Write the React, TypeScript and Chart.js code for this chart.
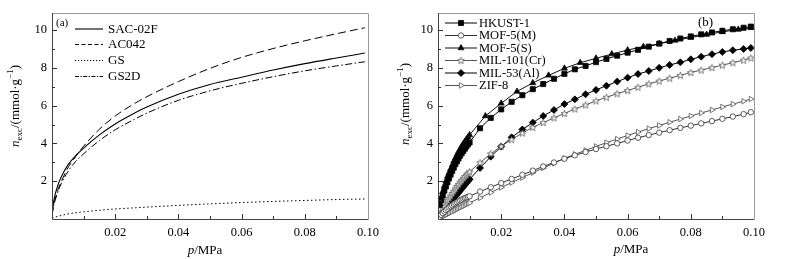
import React, { useEffect, useRef } from "react";
import { Chart, registerables } from "chart.js";
import { drawPoint } from "chart.js/helpers";

Chart.register(...registerables);

const SERIF = "'Liberation Serif', 'Times New Roman', serif";

// ---------- Panel (a) ----------
const pA = [0, 0.0005, 0.001, 0.002, 0.003, 0.005, 0.0075, 0.01, 0.015, 0.02, 0.025, 0.03, 0.04, 0.05, 0.06, 0.07, 0.08, 0.09, 0.099];
const sac02f = [0.25, 0.9, 1.3, 1.85, 2.25, 2.85, 3.35, 3.75, 4.45, 5.03, 5.5, 5.92, 6.6, 7.12, 7.5, 7.88, 8.22, 8.52, 8.78];
const ac042 = [0.2, 0.7, 1.05, 1.6, 2.0, 2.7, 3.3, 3.85, 4.75, 5.45, 6.0, 6.47, 7.27, 7.97, 8.55, 9.02, 9.43, 9.8, 10.12];
const gs = [0.05, 0.08, 0.1, 0.15, 0.19, 0.27, 0.33, 0.38, 0.46, 0.53, 0.58, 0.63, 0.72, 0.8, 0.87, 0.93, 0.98, 1.03, 1.06];
const gs2d = [0.2, 0.7, 1.0, 1.5, 1.9, 2.5, 3.05, 3.45, 4.15, 4.72, 5.18, 5.6, 6.28, 6.78, 7.18, 7.53, 7.84, 8.1, 8.32];

// ---------- Panel (b) ----------
const pLow = [0.0005, 0.001, 0.0015, 0.002, 0.0025, 0.003, 0.0035, 0.004, 0.0045, 0.005, 0.0055, 0.006, 0.0065, 0.007, 0.0075, 0.008, 0.0085, 0.009, 0.0095];
const pHigh = [0.01, 0.0133, 0.0167, 0.02, 0.0233, 0.0267, 0.03, 0.0333, 0.0367, 0.04, 0.0433, 0.0467, 0.05, 0.0533, 0.0567, 0.06, 0.0633, 0.0667, 0.07, 0.0733, 0.0767, 0.08, 0.0833, 0.0867, 0.09, 0.0933, 0.0967, 0.099];
const pS = [0.01, 0.015, 0.02, 0.025, 0.03, 0.035, 0.04, 0.045, 0.05, 0.055, 0.06, 0.065, 0.07, 0.075, 0.08, 0.085, 0.09, 0.095, 0.099];

const hkustLow = [0.75, 1.0, 1.25, 1.5, 1.72, 1.95, 2.15, 2.35, 2.55, 2.72, 2.9, 3.05, 3.2, 3.35, 3.48, 3.6, 3.72, 3.84, 3.95];
const hkustHigh = [4.05, 4.8, 5.35, 5.8, 6.2, 6.55, 6.87, 7.14, 7.42, 7.68, 7.92, 8.1, 8.3, 8.47, 8.64, 8.8, 8.95, 9.12, 9.28, 9.42, 9.55, 9.66, 9.77, 9.87, 9.96, 10.04, 10.12, 10.18];
const mof5mLow = [0.12, 0.22, 0.31, 0.39, 0.47, 0.54, 0.61, 0.67, 0.73, 0.79, 0.84, 0.89, 0.94, 0.99, 1.03, 1.07, 1.11, 1.14, 1.17];
const mof5mHigh = [1.2, 1.45, 1.68, 1.9, 2.12, 2.34, 2.56, 2.78, 2.99, 3.19, 3.37, 3.54, 3.7, 3.85, 4.0, 4.15, 4.3, 4.44, 4.57, 4.7, 4.82, 4.94, 5.06, 5.18, 5.3, 5.42, 5.55, 5.65];
const mof5sLow = [0.8, 1.15, 1.45, 1.75, 2.0, 2.25, 2.45, 2.65, 2.85, 3.05, 3.22, 3.4, 3.55, 3.7, 3.85, 3.98, 4.1, 4.22, 4.33];
const mof5sHigh = [4.45, 5.45, 6.12, 6.75, 7.2, 7.6, 7.97, 8.27, 8.5, 8.73, 8.94, 9.12, 9.27, 9.45, 9.6, 9.76, 9.9, 10.03, 10.12];
const mil101Low = [0.2, 0.38, 0.55, 0.7, 0.85, 0.98, 1.1, 1.22, 1.35, 1.47, 1.6, 1.72, 1.83, 1.95, 2.05, 2.15, 2.25, 2.33, 2.42];
const mil101High = [2.5, 2.98, 3.45, 3.85, 4.2, 4.55, 4.85, 5.1, 5.35, 5.58, 5.82, 6.03, 6.25, 6.44, 6.63, 6.8, 6.97, 7.15, 7.3, 7.45, 7.6, 7.75, 7.88, 8.01, 8.14, 8.27, 8.4, 8.52];
const mil53Low = [0.12, 0.24, 0.35, 0.46, 0.57, 0.68, 0.79, 0.9, 1.0, 1.1, 1.2, 1.3, 1.4, 1.5, 1.6, 1.7, 1.8, 1.9, 2.0];
const mil53High = [2.1, 2.7, 3.3, 3.83, 4.32, 4.74, 5.1, 5.45, 5.77, 6.08, 6.33, 6.6, 6.83, 7.05, 7.27, 7.48, 7.67, 7.83, 8.0, 8.15, 8.29, 8.45, 8.59, 8.72, 8.84, 8.93, 9.0, 9.05];
const zif8Low = [0.04, 0.085, 0.13, 0.17, 0.215, 0.26, 0.3, 0.345, 0.39, 0.43, 0.47, 0.515, 0.56, 0.6, 0.64, 0.685, 0.73, 0.77, 0.81];
const zif8High = [0.85, 1.12, 1.4, 1.67, 1.93, 2.19, 2.45, 2.7, 2.95, 3.2, 3.42, 3.63, 3.84, 4.04, 4.23, 4.42, 4.6, 4.78, 4.95, 5.12, 5.29, 5.45, 5.61, 5.77, 5.93, 6.08, 6.23, 6.35];

const yTicksLabels = [2, 4, 6, 8, 10];
const xTickLabels = [0.02, 0.04, 0.06, 0.08, 0.1];

const xy = (xs: number[], ys: number[]) => xs.map((x, i) => ({ x, y: ys[i] }));

function makeStar(): HTMLCanvasElement {
  const c = document.createElement("canvas");
  c.width = 9;
  c.height = 9;
  const g = c.getContext("2d")!;
  g.beginPath();
  for (let i = 0; i < 10; i++) {
    const r = i % 2 === 0 ? 3.6 : 1.5;
    const a = -Math.PI / 2 + (i * Math.PI) / 5;
    const px = 4.5 + r * Math.cos(a);
    const py = 4.8 + r * Math.sin(a);
    if (i === 0) g.moveTo(px, py);
    else g.lineTo(px, py);
  }
  g.closePath();
  g.fillStyle = "#fff";
  g.fill();
  g.strokeStyle = "#555";
  g.lineWidth = 0.8;
  g.stroke();
  return c;
}

type Piece = { t: string; italic?: boolean; size: number; dy: number };

function drawPieces(ctx: CanvasRenderingContext2D, pieces: Piece[], cx: number, cy: number, rotate: boolean) {
  ctx.save();
  ctx.translate(cx, cy);
  if (rotate) ctx.rotate(-Math.PI / 2);
  const fontOf = (p: Piece) => `${p.italic ? "italic " : ""}${p.size}px ${SERIF}`;
  let total = 0;
  for (const p of pieces) {
    ctx.font = fontOf(p);
    total += ctx.measureText(p.t).width;
  }
  let x = -total / 2;
  ctx.textAlign = "left";
  ctx.textBaseline = "alphabetic";
  ctx.fillStyle = "#000";
  for (const p of pieces) {
    ctx.font = fontOf(p);
    ctx.fillText(p.t, x, p.dy);
    x += ctx.measureText(p.t).width;
  }
  ctx.restore();
}

const yTitle: Piece[] = [
  { t: "n", italic: true, size: 13, dy: 4.5 },
  { t: "exc", size: 9, dy: 7.5 },
  { t: "/(mmol·g", size: 13, dy: 4.5 },
  { t: "−1", size: 9, dy: -1 },
  { t: ")", size: 13, dy: 4.5 },
];
const xTitle: Piece[] = [
  { t: "p", italic: true, size: 13, dy: 4.5 },
  { t: "/MPa", size: 13, dy: 4.5 },
];

type DecorCfg = {
  panel: string;
  panelX: number;
  panelY: number;
  panelSize: number;
  yTitleX: number;
  yTitleY: number;
  xTitleX: number;
  xTitleY: number;
  legendX0: number;
  legendX1: number;
  legendTextX: number;
  legendRows: number[];
  legendFont: number;
  showMarkers: boolean;
};

function makeDecor(cfg: DecorCfg) {
  return {
    id: "decor",
    afterDraw(chart: any) {
      const ctx: CanvasRenderingContext2D = chart.ctx;
      const { left, right, top, bottom } = chart.chartArea;
      const xs = chart.scales.x;
      const ys = chart.scales.y;
      ctx.save();
      ctx.lineWidth = 1;
      ctx.strokeStyle = "#9a9a9a";
      ctx.beginPath();
      ctx.moveTo(left, top + 0.5);
      ctx.lineTo(right + 0.5, top + 0.5);
      ctx.lineTo(right + 0.5, bottom);
      ctx.stroke();
      ctx.strokeStyle = "#444";
      ctx.beginPath();
      ctx.moveTo(left + 0.5, top);
      ctx.lineTo(left + 0.5, bottom + 0.5);
      ctx.lineTo(right + 0.5, bottom + 0.5);
      ctx.stroke();
      ctx.strokeStyle = "#333";
      ctx.beginPath();
      for (let i = 1; i <= 9; i++) {
        const px = Math.round(xs.getPixelForValue(i / 100)) + 0.5;
        const len = i % 2 === 0 ? 5 : 3;
        ctx.moveTo(px, bottom);
        ctx.lineTo(px, bottom - len);
      }
      for (let i = 1; i <= 10; i++) {
        const py = Math.round(ys.getPixelForValue(i)) + 0.5;
        const len = i % 2 === 0 ? 5 : 3;
        ctx.moveTo(left, py);
        ctx.lineTo(left + len, py);
      }
      ctx.stroke();
      ctx.fillStyle = "#000";
      ctx.font = `${cfg.panelSize}px ${SERIF}`;
      ctx.textAlign = "left";
      ctx.textBaseline = "middle";
      ctx.fillText(cfg.panel, cfg.panelX, cfg.panelY);
      chart.data.datasets.forEach((ds: any, i: number) => {
        const y = cfg.legendRows[i];
        ctx.save();
        ctx.strokeStyle = ds.borderColor;
        ctx.lineWidth = ds.borderWidth;
        ctx.setLineDash(ds.legendDash || []);
        ctx.beginPath();
        ctx.moveTo(cfg.legendX0, y + 0.5);
        ctx.lineTo(cfg.legendX1, y + 0.5);
        ctx.stroke();
        ctx.setLineDash([]);
        if (cfg.showMarkers) {
          ctx.fillStyle = ds.pointBackgroundColor;
          ctx.strokeStyle = ds.pointBorderColor;
          ctx.lineWidth = ds.pointBorderWidth;
          drawPoint(
            ctx,
            {
              pointStyle: ds.pointStyle,
              rotation: ds.pointRotation || 0,
              radius: ds.pointRadius,
              borderWidth: ds.pointBorderWidth,
            } as any,
            (cfg.legendX0 + cfg.legendX1) / 2,
            y + 0.5
          );
        }
        ctx.restore();
        ctx.fillStyle = "#000";
        ctx.font = `${cfg.legendFont}px ${SERIF}`;
        ctx.textAlign = "left";
        ctx.textBaseline = "middle";
        ctx.fillText(ds.label, cfg.legendTextX, y + 1);
      });
      ctx.restore();
      drawPieces(ctx, yTitle, cfg.yTitleX, cfg.yTitleY, true);
      drawPieces(ctx, xTitle, cfg.xTitleX, cfg.xTitleY, false);
    },
  };
}

function baseOptions(yWidth: number, padRight: number) {
  return {
    responsive: false,
    animation: false as const,
    devicePixelRatio: 1,
    layout: { padding: { left: 0, right: padRight, top: 13, bottom: 0 } },
    plugins: { legend: { display: false }, tooltip: { enabled: false } },
    scales: {
      x: {
        type: "linear" as const,
        min: 0,
        max: 0.1,
        grid: { display: false, drawTicks: false },
        border: { display: false },
        afterFit: (s: any) => {
          s.height = 40;
        },
        afterBuildTicks: (s: any) => {
          s.ticks = xTickLabels.map((v) => ({ value: v }));
        },
        ticks: {
          autoSkip: false,
          maxRotation: 0,
          padding: 6,
          color: "#000",
          font: { family: SERIF, size: 12.5 },
          callback: (v: any) => Number(v).toFixed(2),
        },
      },
      y: {
        type: "linear" as const,
        min: 0,
        max: 10.9,
        grid: { display: false, drawTicks: false },
        border: { display: false },
        afterFit: (s: any) => {
          s.width = yWidth;
        },
        afterBuildTicks: (s: any) => {
          s.ticks = yTicksLabels.map((v) => ({ value: v }));
        },
        ticks: {
          autoSkip: false,
          padding: 5,
          color: "#000",
          font: { family: SERIF, size: 12.5 },
          callback: (v: any) => String(v),
        },
      },
    },
  };
}

export default function App() {
  const refA = useRef<HTMLCanvasElement>(null);
  const refB = useRef<HTMLCanvasElement>(null);

  useEffect(() => {
    const lineA = (label: string, data: number[], dash: number[], legendDash: number[], width = 1) => ({
      label,
      data: xy(pA, data),
      borderColor: "#000",
      borderWidth: width,
      borderDash: dash,
      legendDash,
      pointRadius: 0,
      fill: false,
      cubicInterpolationMode: "monotone" as const,
    });
    const chartA = new Chart(refA.current!, {
      type: "line",
      data: {
        datasets: [
          lineA("SAC-02F", sac02f, [], [], 1.1),
          lineA("AC042", ac042, [8, 4], [4, 2.5]),
          lineA("GS", gs, [1.5, 2.5], [1.2, 1.8]),
          lineA("GS2D", gs2d, [7, 2.5, 1.5, 2.5], [4, 1.5, 1.2, 1.5]),
        ] as any,
      },
      options: baseOptions(52, 24) as any,
      plugins: [
        makeDecor({
          panel: "(a)",
          panelX: 56,
          panelY: 23,
          panelSize: 11,
          yTitleX: 14,
          yTitleY: 106,
          xTitleX: 205,
          xTitleY: 249,
          legendX0: 75,
          legendX1: 103,
          legendTextX: 108,
          legendRows: [28.5, 44, 60, 76],
          legendFont: 13,
          showMarkers: false,
        }),
      ],
    });

    const star = makeStar();
    const series = (
      label: string,
      xs: number[],
      ys: number[],
      style: any,
      radius: number,
      fillC: string,
      lineC: string,
      rotation = 0
    ) => ({
      label,
      data: xy(xs, ys),
      borderColor: lineC,
      borderWidth: 1,
      pointStyle: style,
      pointRadius: radius,
      pointBackgroundColor: fillC,
      pointBorderColor: lineC,
      pointBorderWidth: 0.8,
      pointRotation: rotation,
      fill: false,
      tension: 0,
    });
    const chartB = new Chart(refB.current!, {
      type: "line",
      data: {
        datasets: [
          series("HKUST-1", pLow.concat(pHigh), hkustLow.concat(hkustHigh), "rect", 3.6, "#000", "#000"),
          series("MOF-5(M)", pLow.concat(pHigh), mof5mLow.concat(mof5mHigh), "circle", 2.7, "#fff", "#333"),
          series("MOF-5(S)", pLow.concat(pS), mof5sLow.concat(mof5sHigh), "triangle", 3.5, "#000", "#111"),
          series("MIL-101(Cr)", pLow.concat(pHigh), mil101Low.concat(mil101High), star, 3.5, "#fff", "#555"),
          series("MIL-53(Al)", pLow.concat(pHigh), mil53Low.concat(mil53High), "rectRot", 3.5, "#000", "#000"),
          series("ZIF-8", pLow.concat(pHigh), zif8Low.concat(zif8High), "triangle", 3.2, "#fff", "#555", 90),
        ] as any,
      },
      options: baseOptions(46, 31) as any,
      plugins: [
        makeDecor({
          panel: "(b)",
          panelX: 306,
          panelY: 23,
          panelSize: 13,
          yTitleX: 12,
          yTitleY: 104,
          xTitleX: 239,
          xTitleY: 248,
          legendX0: 53,
          legendX1: 85,
          legendTextX: 87,
          legendRows: [22.5, 35, 47.5, 60, 72.5, 85],
          legendFont: 12.5,
          showMarkers: true,
        }),
      ],
    });

    return () => {
      chartA.destroy();
      chartB.destroy();
    };
  }, []);

  return (
    <div style={{ position: "fixed", left: 0, top: 0, width: 785, height: 259, background: "#fff" }}>
      <canvas ref={refA} width={392} height={259} style={{ position: "absolute", left: 0, top: 0, width: 392, height: 259 }} />
      <canvas ref={refB} width={393} height={259} style={{ position: "absolute", left: 392, top: 0, width: 393, height: 259 }} />
    </div>
  );
}
